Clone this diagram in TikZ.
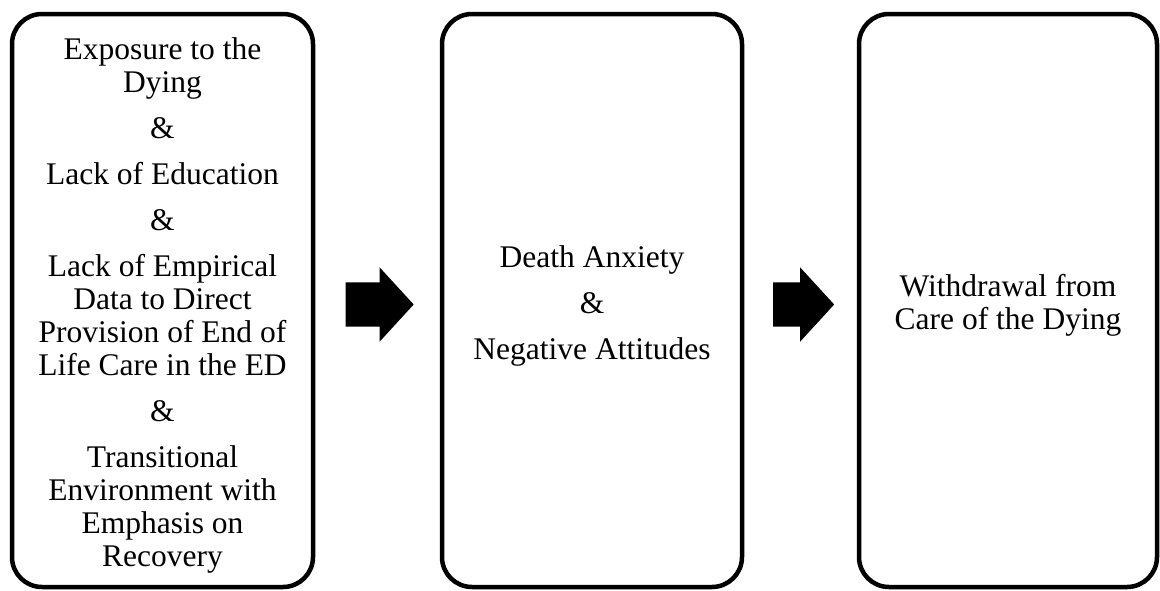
\documentclass[tikz,border=0pt]{standalone}
\usepackage{fontspec}
\setmainfont{Liberation Serif}
\usetikzlibrary{shapes.arrows,calc}

\tikzset{
  stagebox/.style={draw, line width=4.5pt, rounded corners=30pt, minimum height=573pt},
  stagetext/.style={align=center, inner sep=0pt, font=\fontsize{31.5}{33}\selectfont},
  blockarrow/.style={single arrow, fill=black, draw=none, inner xsep=0pt, inner ysep=22pt,
    single arrow head extend=15pt, single arrow tip angle=95}
}

\begin{document}
\begin{tikzpicture}[x=1pt, y=-1pt]
        \useasboundingbox (0,0) rectangle (1160,590);

        % Draw the three stages
        \node[stagebox, minimum width=301pt] (exposure) at (162.5,300.5) {};
        \node[stagebox, minimum width=300pt] (anxiety) at (592,300.5) {};
        \node[stagebox, minimum width=298pt] (withdrawal) at (1008,300.5) {};

        % Texts of the stages
        \node[stagetext] (exposuretext) at ($(exposure.center)+(0,5)$)
          {Exposure to the\\ Dying\\[13pt] \&\\[13pt] Lack of Education\\[13pt] \&\\[13pt]
           Lack of Empirical\\ Data to Direct\\ Provision of End of\\ Life Care in the ED\\[13pt]
           \&\\[13pt] Transitional\\ Environment with\\ Emphasis on\\ Recovery};
        \node[stagetext] (anxietytext) at ($(anxiety.center)+(0,5)$)
          {Death Anxiety\\[13pt] \&\\[13pt] Negative Attitudes};
        \node[stagetext] (withdrawaltext) at ($(withdrawal.center)+(0,5)$)
          {Withdrawal from\\ Care of the Dying};

        % Block arrows between the stages
        \node[blockarrow, minimum height=68pt] (arrowa)
          at ($(exposure.east)!0.5!(anxiety.west)+(-8,4)$) {};
        \node[blockarrow, minimum height=61pt] (arrowb)
          at ($(anxiety.east)!0.5!(withdrawal.west)+(-7,4)$) {};
      \end{tikzpicture}
\end{document}
